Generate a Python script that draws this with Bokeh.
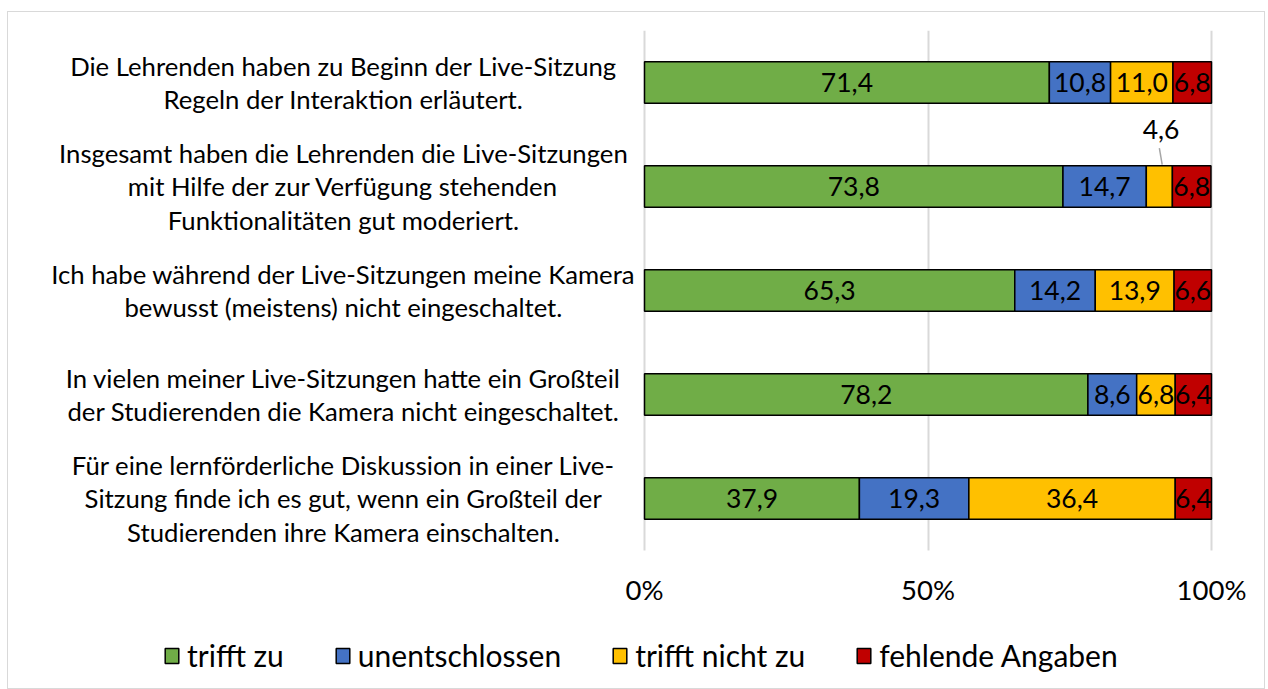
from bokeh.plotting import figure
from bokeh.models import Range1d, FixedTicker, Legend, LegendItem, ColumnDataSource
from bokeh.core.properties import value
from bokeh.embed import file_html
from bokeh.resources import INLINE

categories = [
    "Die Lehrenden haben zu Beginn der Live-Sitzung\nRegeln der Interaktion erläutert.",
    "Insgesamt haben die Lehrenden die Live-Sitzungen\nmit Hilfe der zur Verfügung stehenden\nFunktionalitäten gut moderiert.",
    "Ich habe während der Live-Sitzungen meine Kamera\nbewusst (meistens) nicht eingeschaltet.",
    "In vielen meiner Live-Sitzungen hatte ein Großteil\nder Studierenden die Kamera nicht eingeschaltet.",
    "Für eine lernförderliche Diskussion in einer Live-\nSitzung finde ich es gut, wenn ein Großteil der\nStudierenden ihre Kamera einschalten.",
]
series_names = ["trifft zu", "unentschlossen", "trifft nicht zu", "fehlende Angaben"]
trifft_zu = [71.4, 73.8, 65.3, 78.2, 37.9]
unentschlossen = [10.8, 14.7, 14.2, 8.6, 19.3]
trifft_nicht_zu = [11.0, 4.6, 13.9, 6.8, 36.4]
fehlende_angaben = [6.8, 6.8, 6.6, 6.4, 6.4]
x_ticks = [0, 50, 100]
x_tick_labels = ["0%", "50%", "100%"]

colors = ["#70AD47", "#4472C4", "#FFC000", "#C00000"]
FONT = "Lato"

series = [trifft_zu, unentschlossen, trifft_nicht_zu, fehlende_angaben]
keys = ["s0", "s1", "s2", "s3"]
n = len(categories)
ypos = [n - 0.5 - i for i in range(n)]

data = {"y": ypos}
for k, s in zip(keys, series):
    data[k] = s
src = ColumnDataSource(data)

p = figure(frame_width=1246, frame_height=658,
           output_backend="svg", toolbar_location=None,
           x_range=Range1d(-112.17, 107.58), y_range=Range1d(-1.327, n),
           y_axis_location=None, min_border_left=0, min_border_right=10,
           min_border_top=18, min_border_bottom=0)
p.outline_line_color = None
p.background_fill_color = "white"
p.border_fill_color = "white"
p.styles = {"border": "1px solid #d9d9d9", "margin-left": "7px", "margin-top": "11px"}

renderers = p.hbar_stack(keys, y="y", height=0.4, source=src, fill_color=colors,
                         line_color="black", line_width=1.5)

# value labels
lx, ly, lt = [], [], []
outside = []
for i in range(n):
    left = 0.0
    for s in series:
        v = s[i]
        c = left + v / 2
        if v < 5:
            outside.append((c, ypos[i], v))
        else:
            lx.append(c); ly.append(ypos[i]); lt.append(f"{v:.1f}".replace(".", ","))
        left += v
p.text(x=lx, y=ly, text=lt, text_align="center", text_baseline="middle",
       text_font=value(FONT), text_font_size="26.5px", text_color="black")
for c, y, v in outside:
    p.text(x=[c + 0.3], y=[y + 0.55], text=[f"{v:.1f}".replace(".", ",")], text_align="center",
           text_baseline="middle", text_font=value(FONT), text_font_size="26.5px", text_color="black")
    p.segment(x0=[c], y0=[y + 0.37], x1=[c + 0.5], y1=[y + 0.21], line_color="#a6a6a6", line_width=1.5)

# category labels
p.text(x=[-53.1] * n, y=ypos, text=categories, text_align="center", text_baseline="middle",
       text_font=value(FONT), text_font_size="25.7px", text_color="black", text_line_height=1.13)

xa = p.xaxis[0]
xa.fixed_location = 0
xa.ticker = FixedTicker(ticks=x_ticks)
xa.major_label_overrides = {t: l for t, l in zip(x_ticks, x_tick_labels)}
xa.axis_line_color = None
xa.major_tick_line_color = None
xa.minor_tick_line_color = None
xa.major_tick_out = 0
xa.major_tick_in = 0
xa.major_label_standoff = 23
xa.major_label_text_font = FONT
xa.major_label_text_font_size = "27.5px"
xa.major_label_text_color = "black"

g = p.xgrid[0]
g.ticker = FixedTicker(ticks=x_ticks)
g.grid_line_color = "#d9d9d9"
g.grid_line_width = 2
if "cross_bounds" in g.properties():
    g.cross_bounds = (0, n)
else:
    g.visible = False
    p.segment(x0=x_ticks, y0=[0] * len(x_ticks), x1=x_ticks, y1=[n] * len(x_ticks),
              line_color="#d9d9d9", line_width=2, level="underlay")
p.ygrid.visible = False

legend = Legend(items=[LegendItem(label=nm, renderers=[r]) for nm, r in zip(series_names, renderers)],
                orientation="horizontal", location=(155, 15),
                label_text_font=FONT, label_text_font_size="30px", label_text_color="black",
                glyph_width=17, glyph_height=19, label_standoff=7, spacing=50,
                border_line_color=None, background_fill_alpha=0, padding=0, margin=0)
p.add_layout(legend, "center")

open("out.html", "w").write(file_html(p, INLINE))
